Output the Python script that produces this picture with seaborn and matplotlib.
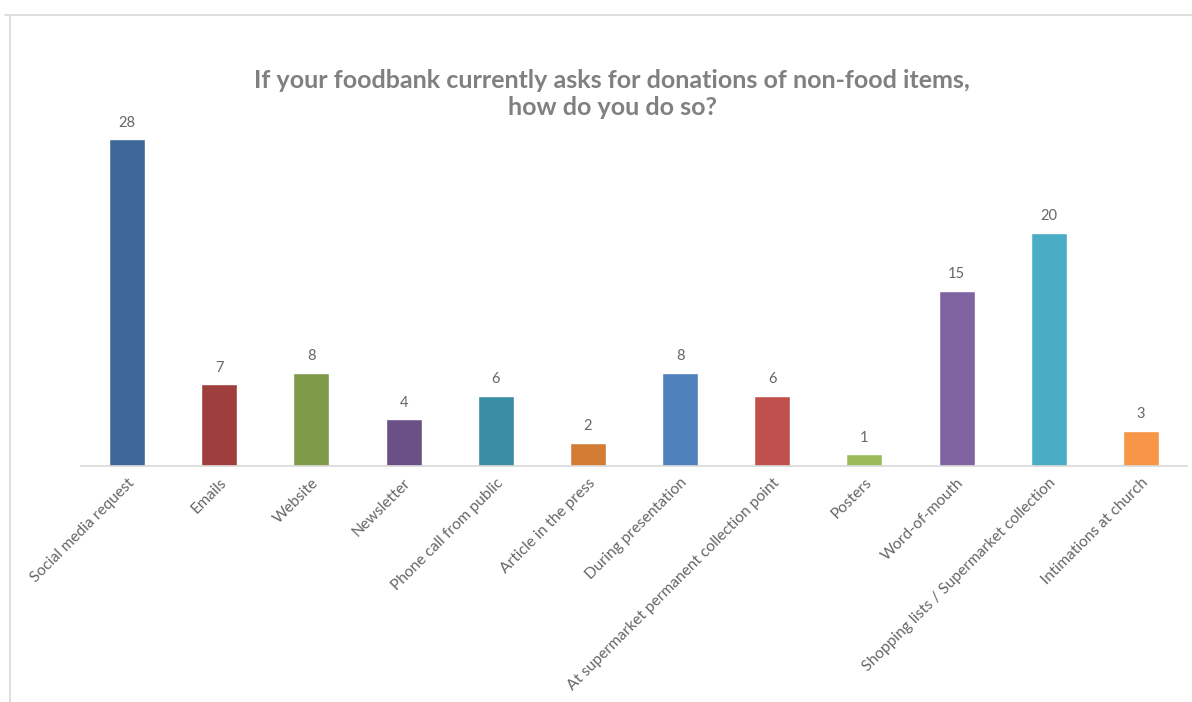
import matplotlib
matplotlib.use("Agg")
import matplotlib.pyplot as plt
import seaborn as sns
import pandas as pd
from matplotlib.lines import Line2D

categories = [
    "Social media request", "Emails", "Website", "Newsletter",
    "Phone call from public", "Article in the press", "During presentation",
    "At supermarket permanent collection point", "Posters", "Word-of-mouth",
    "Shopping lists / Supermarket collection", "Intimations at church",
]
values = [28, 7, 8, 4, 6, 2, 8, 6, 1, 15, 20, 3]
colors = ["#3F6797", "#9E3F3D", "#7F9A48", "#6A5084", "#3A8DA3", "#D27D33",
          "#4F81BD", "#C0504D", "#9BBB59", "#8064A2", "#4BACC6", "#F79646"]
title = "If your foodbank currently asks for donations of non-food items,\nhow do you do so?"

sns.set_theme(style="white")
plt.rcParams['font.family'] = ['Lato', 'DejaVu Sans']

df = pd.DataFrame({"cat": categories, "val": values})

fig = plt.figure(figsize=(11.92, 7.02), dpi=100)
ax = fig.add_axes([81/1192, 1 - 466/702, (1187-81)/1192, 350/702])

sns.barplot(data=df, x="cat", y="val", hue="cat", palette=colors, legend=False,
            width=0.39, ax=ax, saturation=1)

ax.set_ylim(0, 30)
ax.set_xlim(-0.5, len(categories) - 0.5)
ax.set_xlabel("")
ax.set_ylabel("")
ax.set_yticks([])
for s in ["top", "right", "left"]:
    ax.spines[s].set_visible(False)
ax.spines["bottom"].set_color("#D9D9D9")
ax.spines["bottom"].set_linewidth(1.2)

ax.set_xticks(range(len(categories)))
ax.set_xticklabels(categories, rotation=45, ha="right", va="top",
                   rotation_mode="anchor", fontsize=11.2, color="#666666")
ax.tick_params(axis="x", length=0, pad=7)

for container in ax.containers:
    ax.bar_label(container, padding=7, fontsize=10.5, color="#666666")

fig.text(612/1192, 1 - 94/702, title, ha="center", va="center",
         fontsize=18, fontweight="bold", color="#808080", linespacing=1.2)

# chart area border (partially visible)
fig.add_artist(Line2D([5/1192, 1], [1 - 15/702, 1 - 15/702], transform=fig.transFigure,
                      color="#D9D9D9", linewidth=1.2))
fig.add_artist(Line2D([10/1192, 10/1192], [0, 1 - 15/702], transform=fig.transFigure,
                      color="#D9D9D9", linewidth=1.2))

fig.savefig("out.png", dpi=100, facecolor="white")
